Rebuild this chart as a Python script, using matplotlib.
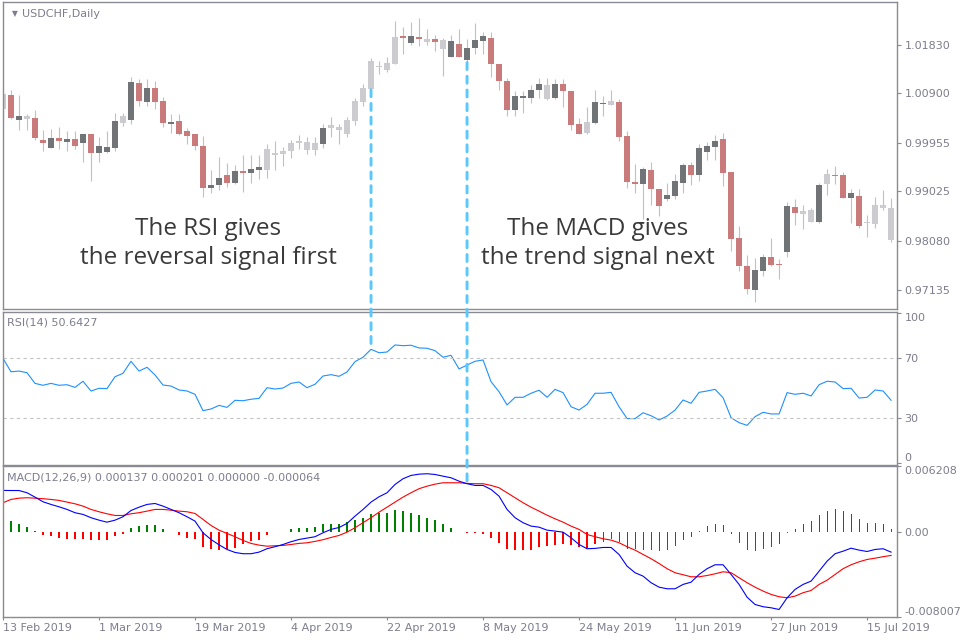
import numpy as np
import pandas as pd
import matplotlib
matplotlib.use("Agg")
import matplotlib.pyplot as plt
from matplotlib.patches import ConnectionPatch

# daily bars, weekdays only
dates = pd.bdate_range("2019-02-13", periods=112)

opens = [1.0061, 1.0087, 1.0039, 1.0041, 1.0043, 1.0001, 0.9986, 1.0005, 0.9996, 1.0003,
         0.9994, 1.0012, 0.9976, 0.9977, 0.9986, 1.0034, 1.0039, 1.0110, 1.0074, 1.0101,
         1.0076, 1.0032, 1.0037, 1.0018, 1.0012, 0.9990, 0.9908, 0.9915, 0.9934, 0.9918,
         0.9942, 0.9938, 0.9943, 0.9943, 0.9972, 0.9974, 0.9979, 0.9994, 0.9982, 0.9982,
         0.9993, 1.0023, 1.0019, 1.0012, 1.0038, 1.0074, 1.0099, 1.0141, 1.0134, 1.0147,
         1.0200, 1.0187, 1.0198, 1.0189, 1.0195, 1.0175, 1.0160, 1.0185, 1.0154, 1.0177,
         1.0191, 1.0196, 1.0147, 1.0114, 1.0058, 1.0082, 1.0082, 1.0097, 1.0080, 1.0081,
         1.0108, 1.0095, 1.0032, 1.0015, 1.0034, 1.0069, 1.0067, 1.0074, 1.0009, 0.9921,
         0.9917, 0.9943, 0.9907, 0.9888, 0.9894, 0.9919, 0.9953, 0.9934, 0.9978, 0.9987,
         1.0003, 0.9940, 0.9813, 0.9760, 0.9714, 0.9749, 0.9777, 0.9763, 0.9787, 0.9873,
         0.9859, 0.9844, 0.9844, 0.9916, 0.9934, 0.9934, 0.9890, 0.9894, 0.9842, 0.9840,
         0.9871, 0.9871]
highs = [1.0091, 1.0097, 1.0087, 1.0051, 1.0058, 1.0020, 1.0022, 1.0025, 1.0018, 1.0017,
         1.0012, 1.0012, 1.0007, 1.0018, 1.0052, 1.0053, 1.0121, 1.0117, 1.0117, 1.0113,
         1.0083, 1.0051, 1.0051, 1.0024, 1.0012, 1.0009, 0.9943, 0.9969, 0.9956, 0.9952,
         0.9972, 0.9972, 0.9972, 0.9993, 0.9999, 0.9988, 1.0001, 1.0010, 1.0007, 1.0007,
         1.0032, 1.0045, 1.0032, 1.0045, 1.0081, 1.0108, 1.0158, 1.0152, 1.0160, 1.0229,
         1.0218, 1.0227, 1.0235, 1.0214, 1.0202, 1.0196, 1.0202, 1.0214, 1.0195, 1.0225,
         1.0208, 1.0208, 1.0147, 1.0120, 1.0095, 1.0095, 1.0106, 1.0120, 1.0120, 1.0118,
         1.0118, 1.0095, 1.0042, 1.0063, 1.0097, 1.0085, 1.0097, 1.0080, 1.0017, 0.9955,
         0.9949, 0.9959, 0.9907, 0.9919, 0.9936, 0.9957, 0.9959, 0.9993, 0.9997, 1.0010,
         1.0014, 0.9940, 0.9836, 0.9781, 0.9775, 0.9782, 0.9813, 0.9773, 0.9882, 0.9888,
         0.9876, 0.9870, 0.9919, 0.9945, 0.9950, 0.9940, 0.9907, 0.9907, 0.9857, 0.9892,
         0.9905, 0.9889]
lows = [1.0041, 1.0041, 1.0020, 1.0020, 1.0001, 0.9979, 0.9985, 0.9984, 0.9980, 0.9983,
        0.9959, 0.9922, 0.9959, 0.9976, 0.9980, 1.0028, 1.0032, 1.0066, 1.0066, 1.0061,
        1.0025, 1.0015, 1.0010, 0.9993, 0.9982, 0.9892, 0.9900, 0.9905, 0.9910, 0.9916,
        0.9902, 0.9918, 0.9926, 0.9928, 0.9943, 0.9950, 0.9967, 0.9984, 0.9974, 0.9972,
        0.9986, 1.0007, 0.9993, 1.0007, 1.0030, 1.0065, 1.0097, 1.0127, 1.0131, 1.0147,
        1.0166, 1.0183, 1.0181, 1.0182, 1.0172, 1.0124, 1.0160, 1.0159, 1.0149, 1.0166,
        1.0166, 1.0121, 1.0097, 1.0047, 1.0047, 1.0053, 1.0071, 1.0081, 1.0078, 1.0080,
        1.0063, 1.0020, 1.0013, 1.0013, 1.0032, 1.0047, 1.0067, 0.9998, 0.9908, 0.9900,
        0.9850, 0.9876, 0.9855, 0.9883, 0.9888, 0.9900, 0.9915, 0.9922, 0.9963, 0.9963,
        0.9913, 0.9788, 0.9749, 0.9706, 0.9691, 0.9740, 0.9760, 0.9735, 0.9777, 0.9838,
        0.9831, 0.9843, 0.9841, 0.9896, 0.9917, 0.9889, 0.9842, 0.9832, 0.9814, 0.9832,
        0.9867, 0.9805]
closes = [1.0089, 1.0043, 1.0047, 1.0047, 1.0005, 0.9995, 1.0005, 0.9998, 1.0003, 0.9990,
          1.0012, 0.9976, 0.9989, 0.9988, 1.0037, 1.0047, 1.0111, 1.0076, 1.0101, 1.0074,
          1.0034, 1.0035, 1.0012, 1.0009, 0.9990, 0.9908, 0.9914, 0.9928, 0.9919, 0.9941,
          0.9938, 0.9945, 0.9949, 0.9984, 0.9976, 0.9980, 0.9995, 0.9999, 0.9997, 0.9995,
          1.0024, 1.0030, 1.0026, 1.0039, 1.0076, 1.0101, 1.0152, 1.0143, 1.0149, 1.0198,
          1.0196, 1.0200, 1.0195, 1.0195, 1.0189, 1.0193, 1.0191, 1.0160, 1.0177, 1.0193,
          1.0200, 1.0147, 1.0113, 1.0058, 1.0085, 1.0085, 1.0097, 1.0108, 1.0106, 1.0108,
          1.0094, 1.0030, 1.0013, 1.0035, 1.0074, 1.0072, 1.0076, 1.0007, 0.9921, 0.9917,
          0.9945, 0.9907, 0.9874, 0.9896, 0.9922, 0.9953, 0.9934, 0.9986, 0.9989, 0.9999,
          0.9938, 0.9811, 0.9760, 0.9716, 0.9752, 0.9777, 0.9762, 0.9761, 0.9874, 0.9861,
          0.9864, 0.9867, 0.9915, 0.9936, 0.9932, 0.9890, 0.9900, 0.9836, 0.9843, 0.9876,
          0.9876, 0.9809]
# L = light grey, D = dark grey, R = red body
candle_kind = ("LRDLRRDRDR" "DRDDDLDRDR" "RDRRRRDDRD" "RDDLLLLLLL" "DLLLLLLLLL"
               "RDRLRLDRDD" "DRRRDDDDLD" "RRRLDDLRRR" "DRRDDDRDDD" "RRRRDDRRDR"
               "LLDLRRDRLLLL")

rsi = [70, 61, 61.5, 60.4, 53.3, 52, 53.3, 52, 52.4, 50.6,
       54.7, 48.2, 50, 49.8, 57.7, 60, 68, 61.5, 64, 58.9,
       52.2, 51.5, 48.9, 48.2, 46, 35.1, 36.2, 38.6, 37.3, 42,
       41.7, 42.7, 43.3, 50.4, 49.5, 50.2, 53.3, 54.2, 50.4, 52.7,
       58.2, 59.1, 58, 60.9, 67.8, 70.7, 76, 73.7, 74.2, 78.9,
       78.4, 78.7, 76.9, 76.7, 75.1, 70.7, 72, 62.9, 65.5, 68,
       68.9, 54.4, 47.7, 38.9, 44, 44, 46.7, 48.7, 44, 49.3,
       47.1, 37.7, 35.5, 39.3, 46.7, 46.7, 47.3, 37.7, 29.8, 29.8,
       33.7, 31.7, 28.9, 31.5, 35.5, 42.2, 40, 47.3, 48.2, 49.3,
       43.7, 30.4, 27.1, 25.3, 31.1, 34, 32.9, 32.9, 47.1, 46,
       46.7, 44.9, 52.4, 54.7, 54.2, 49.8, 50, 43.5, 44, 48.9, 48.2, 42]

macd = [0.00391, 0.0039, 0.0039, 0.00369, 0.00328, 0.00284, 0.00259, 0.00237, 0.00212, 0.00181,
        0.00165, 0.00134, 0.00111, 0.00092, 0.00111, 0.00143, 0.00202, 0.00233, 0.00259, 0.00268,
        0.00243, 0.00212, 0.00181, 0.00143, 0.00102, -0.00008, -0.00071, -0.00121, -0.00165, -0.00193,
        -0.00205, -0.00205, -0.0019, -0.00158, -0.00139, -0.00118, -0.00092, -0.00071, -0.00058, -0.00045,
        -0.00008, 0.00024, 0.00042, 0.0008, 0.00149, 0.00212, 0.00281, 0.00331, 0.00369, 0.00447,
        0.00501, 0.00532, 0.00544, 0.00548, 0.00541, 0.00525, 0.0051, 0.00478, 0.00454, 0.00438,
        0.00438, 0.004, 0.00337, 0.00212, 0.00134, 0.00087, 0.00055, 0.00045, 0.00017, 0.00008,
        -0.00002, -0.00055, -0.00118, -0.00158, -0.00155, -0.00146, -0.00146, -0.00212, -0.00322, -0.00384,
        -0.00416, -0.00478, -0.0052, -0.00535, -0.00535, -0.00494, -0.00473, -0.004, -0.00346, -0.00309,
        -0.00309, -0.004, -0.00494, -0.00614, -0.00683, -0.00704, -0.00714, -0.0073, -0.0062, -0.00541,
        -0.00494, -0.00463, -0.00369, -0.00275, -0.00205, -0.00181, -0.00153, -0.00171, -0.00184, -0.00165,
        -0.00158, -0.0019]
signal = [0.00275, 0.00306, 0.00318, 0.00322, 0.00318, 0.00313, 0.00306, 0.00297, 0.00281, 0.00265,
          0.00243, 0.00212, 0.0019, 0.00171, 0.00155, 0.00155, 0.00171, 0.00181, 0.00196, 0.00212,
          0.00212, 0.00205, 0.00196, 0.0019, 0.00174, 0.00118, 0.00061, 0.00017, -0.00014, -0.00045,
          -0.0008, -0.00108, -0.00124, -0.00134, -0.0013, -0.00127, -0.00118, -0.00108, -0.00102, -0.00089,
          -0.00073, -0.00052, -0.00033, -0.00002, 0.0004, 0.00087, 0.00134, 0.00186, 0.00233, 0.00281,
          0.00328, 0.00369, 0.00407, 0.00431, 0.0045, 0.00463, 0.00463, 0.00463, 0.00457, 0.00454,
          0.00454, 0.00438, 0.00416, 0.00369, 0.00322, 0.00275, 0.00233, 0.00196, 0.00158, 0.00124,
          0.00092, 0.00055, 0.00024, -0.00024, -0.00045, -0.00064, -0.00077, -0.00102, -0.00139, -0.00171,
          -0.00212, -0.00252, -0.00297, -0.00346, -0.00384, -0.00403, -0.00422, -0.00422, -0.0041, -0.00394,
          -0.00375, -0.00384, -0.00431, -0.00478, -0.0052, -0.00557, -0.00588, -0.0061, -0.0062, -0.00604,
          -0.00572, -0.00551, -0.00494, -0.00454, -0.004, -0.00346, -0.00309, -0.00281, -0.00259, -0.00247,
          -0.00233, -0.00221]
hist = [0.00125, 0.001, 0.00078, 0.00047, 0.00005, -0.00025, -0.0004, -0.00053, -0.00063, -0.00069,
        -0.00069, -0.00078, -0.00078, -0.00078, -0.0004, -0.00016, 0.0004, 0.00053, 0.00069, 0.00063,
        0.00025, 0.0, -0.00025, -0.00053, -0.00063, -0.00141, -0.00163, -0.00173, -0.00163, -0.00148,
        -0.00116, -0.00088, -0.00072, -0.00031, -0.00003, 0.00003, 0.0003, 0.0004, 0.0004, 0.00047,
        0.00072, 0.00078, 0.00078, 0.00094, 0.0011, 0.00135, 0.00173, 0.00182, 0.00182, 0.00204,
        0.00198, 0.00182, 0.00163, 0.00135, 0.0011, 0.00072, 0.0004, 0.00003, -0.00006, -0.0001,
        -0.00016, -0.00053, -0.001, -0.00157, -0.00173, -0.00173, -0.00166, -0.00141, -0.00135, -0.00119,
        -0.0011, -0.00126, -0.00141, -0.00151, -0.0011, -0.00094, -0.00063, -0.00094, -0.00157, -0.00163,
        -0.00173, -0.00173, -0.00182, -0.00173, -0.00132, -0.00072, -0.00047, 0.00005, 0.00053, 0.00078,
        0.00063, -0.00016, -0.001, -0.00173, -0.00182, -0.00157, -0.00141, -0.0011, -0.00008, 0.0003,
        0.00078, 0.001, 0.00157, 0.00195, 0.00213, 0.00195, 0.00173, 0.00125, 0.00088, 0.00088,
        0.00078, 0.0003]

price_ticks = [1.01830, 1.00900, 0.99955, 0.99025, 0.98080, 0.97135]
rsi_ticks = [100, 70, 30, 0]
macd_ticks = [0.006208, 0.0, -0.008007]
date_tick_idx = [0, 12, 24, 36, 48, 60, 72, 84, 96, 108]

frame = "#8a8a92"
label_col = "#7d7d8d"
body_colors = {"L": "#cccbd0", "D": "#717477", "R": "#c97a7a"}

fig = plt.figure(figsize=(9.6, 6.4), dpi=100, facecolor="white")
left, width = 2.5 / 960, 895 / 960
ax1 = fig.add_axes([left, 1 - 309 / 640, width, 307 / 640])
ax2 = fig.add_axes([left, 1 - 464.5 / 640, width, 153 / 640], sharex=ax1)
ax3 = fig.add_axes([left, 1 - 617 / 640, width, 151 / 640], sharex=ax1)

x = np.arange(len(opens))
o = np.array(opens); c = np.array(closes)

# candles
ax1.vlines(x, lows, highs, color="#bfbfc4", lw=0.8, zorder=1)
bottoms = np.minimum(o, c)
heights = np.maximum(np.abs(c - o), 0.00012)
ax1.bar(x, heights, bottom=bottoms, width=0.84,
        color=[body_colors[k] for k in candle_kind], linewidth=0, zorder=2)
ax1.set_ylim(0.9677, 1.0265)
ax1.set_yticks(price_ticks)
ax1.set_yticklabels([f"{v:.5f}" for v in price_ticks])
ax1.text(0.011, 0.961, "\u25bc", transform=ax1.transAxes, fontsize=5.5,
         color=label_col, va="center", ha="left")
ax1.text(0.022, 0.962, "USDCHF,Daily", transform=ax1.transAxes, fontsize=8,
         color=label_col, va="center", ha="left")

# RSI
ax2.plot(x, rsi, color="#1e90ff", lw=0.8)
for lvl in (70, 30):
    ax2.axhline(lvl, color="#c4c4c4", lw=0.8, ls=(0, (3, 3)))
ax2.set_ylim(-0.8, 101.2)
ax2.set_yticks(rsi_ticks)
ax2.set_yticklabels([str(v) for v in rsi_ticks])
ax2.text(0.005, 0.93, "RSI(14) 50.6427", transform=ax2.transAxes, fontsize=8,
         color=label_col, va="center", ha="left")

# MACD: thin histogram sticks plus the two lines
hcol = ["#008000" if v > 0 else "#ff0000" for v in hist]
ax3.bar(x, hist, width=0.14, color=hcol, linewidth=0, antialiased=False)
ax3.plot(x, signal, color="#ff0000", lw=0.8)
ax3.plot(x, macd, color="#0000ff", lw=0.8)
ax3.set_ylim(-0.008007, 0.006208)
ax3.set_yticks(macd_ticks)
ax3.set_yticklabels(["0.006208", "0.00", "-0.008007"])
ax3.text(0.005, 0.925, "MACD(12,26,9) 0.000137 0.000201 0.000000 -0.000064",
         transform=ax3.transAxes, fontsize=8, color=label_col, va="center", ha="left")

ax1.set_xlim(-0.06, 111.8)
ax3.set_xticks(date_tick_idx)
ax3.set_xticklabels([f"{dates[i].day} {dates[i]:%b %Y}" for i in date_tick_idx],
                    ha="left")

for ax in (ax1, ax2, ax3):
    ax.set_facecolor("white")
    for s in ax.spines.values():
        s.set_color(frame)
        s.set_linewidth(1)
    ax.yaxis.tick_right()
    ax.tick_params(axis="y", right=True, left=False, length=3, width=0.8,
                   color=frame, labelcolor=label_col, labelsize=8, pad=2)
    ax.tick_params(axis="x", bottom=False, labelbottom=False)
ax3.tick_params(axis="x", bottom=True, labelbottom=True, length=2.5, width=0.8,
                color=frame, labelcolor=label_col, labelsize=8, pad=1.5)

# keep end labels inside their panels
for ax in (ax2, ax3):
    ticks = ax.yaxis.get_major_ticks()
    ticks[0].label2.set_va("top")
    ticks[-1].label2.set_va("bottom")

# dashed links between panels
for i, ax_to, y_to in [(46, ax2, rsi[46]), (58, ax3, macd[58])]:
    con = ConnectionPatch(xyA=(i, lows[i]), coordsA=ax1.transData,
                          xyB=(i, y_to), coordsB=ax_to.transData,
                          color="#5ac8fa", lw=2.1, linestyle=(0, (2.4, 2.3)),
                          zorder=10)
    fig.add_artist(con)

note_font = dict(fontsize=17.5, color="#3a3a3a", ha="center", va="center",
                 linespacing=1.3, family="Open Sans")
fig.text(208.5 / 960, 1 - 243.5 / 640, "The RSI gives\nthe reversal signal first", **note_font)
fig.text(598 / 960, 1 - 243.5 / 640, "The MACD gives\nthe trend signal next", **note_font)

fig.savefig("out.png", dpi=100, facecolor="white")
